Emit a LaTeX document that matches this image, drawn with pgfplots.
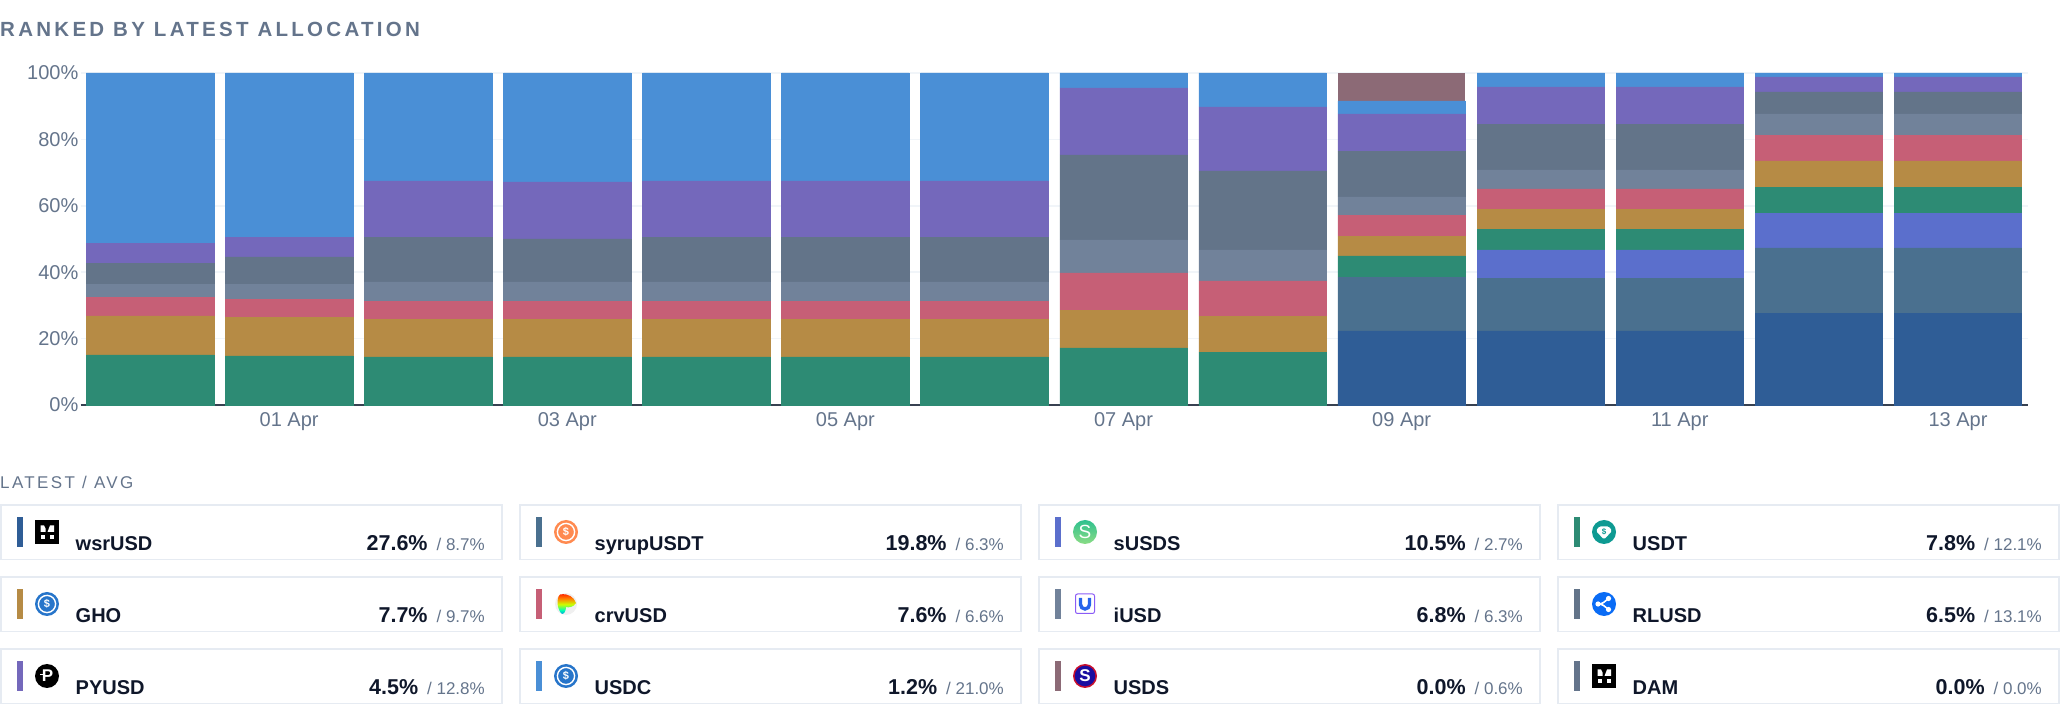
\documentclass[border=0pt]{standalone}
\usepackage{fontspec}
\setmainfont{Liberation Sans}
\newfontfamily\titlefont[LetterSpace=16]{Liberation Sans}
\newfontfamily\subfont[LetterSpace=14]{Liberation Sans}
\usepackage{pgfplots}
\usepackage{pgfplotstable}
\pgfplotsset{compat=1.18}

\definecolor{cwsr}{HTML}{2F5D96}
\definecolor{csyrup}{HTML}{4A708F}
\definecolor{csusds}{HTML}{5B6FCC}
\definecolor{cusdt}{HTML}{2D8B74}
\definecolor{cgho}{HTML}{B68B45}
\definecolor{ccrv}{HTML}{C65F76}
\definecolor{ciusd}{HTML}{71829A}
\definecolor{crlusd}{HTML}{637489}
\definecolor{cpyusd}{HTML}{7468BB}
\definecolor{cusdc}{HTML}{4A8FD6}
\definecolor{cusds}{HTML}{8C6A76}
\definecolor{cdam}{HTML}{64748B}
\definecolor{muted}{HTML}{64748B}
\definecolor{ink}{HTML}{0F172A}
\definecolor{cardline}{HTML}{E6EBF2}
\definecolor{gridc}{HTML}{F1F5F9}
\definecolor{baseline}{HTML}{374151}
\definecolor{icblue}{HTML}{2775CA}
\definecolor{icorange}{HTML}{FF8A50}
\definecolor{icteal}{HTML}{0E9A92}
\definecolor{icxrp}{HTML}{0A6CF5}
\definecolor{icnavy}{HTML}{1A0DA0}
\definecolor{icred}{HTML}{C8102E}
\definecolor{icvio}{HTML}{8B5CF6}
\definecolor{icu}{HTML}{2563EB}
\definecolor{icgtop}{HTML}{2EC08F}
\definecolor{icgbot}{HTML}{8BDC85}

\pgfdeclareverticalshading{crvshade}{100bp}{
  color(0bp)=(blue);
  color(18bp)=(blue!70!cyan);
  color(34bp)=(cyan!70!green);
  color(48bp)=(yellow!80!green);
  color(62bp)=(orange);
  color(78bp)=(red);
  color(100bp)=(red!55!black)}

% daily shares in percent, stacked bottom to top
\pgfplotstableread{
x wsr   syrup  susds usdt  gho   crv   iusd rlusd pyusd usdc  usds
0 0     0      0     15.06 11.75 5.70  3.90 6.20  6.10  51.29 0
1 0     0      0     14.76 11.74 5.40  4.50 8.20  6.00  49.40 0
2 0     0      0     14.46 11.44 5.20  5.95 13.35 17.10 32.50 0
3 0     0      0     14.46 11.44 5.20  5.95 12.95 17.20 32.80 0
4 0     0      0     14.46 11.44 5.20  5.95 13.35 17.10 32.50 0
5 0     0      0     14.46 11.44 5.20  5.95 13.35 17.10 32.50 0
6 0     0      0     14.46 11.44 5.20  5.95 13.35 17.10 32.50 0
7 0     0      0     17.17 11.43 11.16 9.94 25.60 20.20 4.50  0
8 0     0      0     15.96 10.84 10.55 9.35 23.80 19.30 10.20 0
9 22.30 16.25  0     6.35  6.00  6.30  5.45 13.85 11.15 3.95  8.40
10 22.30 15.95 8.45  6.30  6.00  6.06  5.74 13.80 11.20 4.20  0
11 22.30 15.95 8.45  6.30  6.00  6.06  5.74 13.80 11.20 4.20  0
12 27.70 19.60 10.50 7.85  7.85  7.60  6.55 6.65  4.50  1.20  0
13 27.70 19.60 10.50 7.85  7.85  7.60  6.55 6.65  4.50  1.20  0
}\alloc

% icons, drawn round (0,0), 24 across
\newcommand{\dollar}[2]{\node[text=#1,font=\bfseries\fontsize{#2}{#2}\selectfont,inner sep=0pt] at (0,0) {\$};}
\newcommand{\ring}{\draw[white,line width=1.4pt] (65:8.6) arc (65:295:8.6) (-65:8.6) arc (-65:65:8.6);}
\newcommand{\icsquare}{\fill[black] (-12,-12) rectangle (12,12);
  \fill[white] (-6.5,0) -- (-1.5,0) -- (-1.5,3.5) -- (-3,6.5) -- (-6.5,6.5) -- cycle;
  \fill[white] (-6.5,-7) rectangle (-2,-3);
  \fill[white] (0.5,0) -- (7,0) -- (7,6.5) -- (3,6.5) -- cycle;
  \fill[white] (2.5,-7) rectangle (7,-3);}
\newcommand{\icusdc}{\fill[icblue] (0,0) circle (12); \ring \dollar{white}{11}}
\newcommand{\icsyrup}{\fill[icorange] (0,0) circle (12); \ring \dollar{white}{11}}
\newcommand{\icsusds}{\shade[top color=icgtop,bottom color=icgbot] (0,0) circle (12);
  \node[text=white,font=\fontsize{19}{19}\selectfont,inner sep=0pt] at (0,0) {S};}
\newcommand{\icusdt}{\fill[icteal] (0,0) circle (12);
  \fill[white,rounded corners=1.5pt] (-5,5.5) -- (5,5.5) -- (8,1) -- (0,-7.5) -- (-8,1) -- cycle; \dollar{icteal}{8}}
\newcommand{\iccrv}{\fill[gray!12] (0,0) circle (11);
  \shade[shading=crvshade] (-6,9.5) .. controls (2,11) and (8,7) .. (10,1) .. controls (8,-3) and (2,-4) .. (0,-3)
     .. controls (0,-7) and (-2,-10) .. (-4,-10) .. controls (-9,-6) and (-10,6) .. cycle;}
\newcommand{\iciusd}{\draw[icvio,rounded corners=2pt,line width=1pt] (-9.5,-9.5) rectangle (9.5,10);
  \draw[icu,line width=3.4pt] (-4.5,6) -- (-4.5,-0.5) arc (180:360:4.5) -- (4.5,6);}
\newcommand{\icrlusd}{\fill[icxrp] (0,0) circle (12);
  \draw[white,line width=1.6pt] (-6,0) .. controls (-1,0) and (0,2) .. (4.5,5.5) (-6,0) .. controls (-1,0) and (0,-2) .. (4.5,-5.5);
  \fill[white] (-6,0) circle (2.6) (4.5,5.5) circle (2.6) (4.5,-5.5) circle (2.6);}
\newcommand{\icusds}{\fill[icred] (0,0) circle (12);
  \fill[icnavy] (0,0) circle (10.3);
  \node[text=white,font=\bfseries\fontsize{17}{17}\selectfont,inner sep=0pt] at (0,0) {S};}
\newcommand{\icpyusd}{\fill[black] (0,0) circle (12);
  \node[text=white,font=\bfseries\fontsize{17}{17}\selectfont,inner sep=0pt] at (0.5,0) {P};
  \fill[white] (-7,0.5) rectangle (-3,1.6);}

% one card: left x, top y (px from the top), colour, icon, name, latest, avg
\newcommand{\card}[7]{%
  \begin{scope}[shift={(#1,{706-#2})}]
    \draw[cardline,line width=1.5pt] (0.8,-0.8) rectangle (502.2,-55.5);
    \fill[#3] (17,-13) rectangle (23,-43);
    \begin{scope}[shift={(47,-28)}] #4 \end{scope}
    \node[anchor=base west,inner sep=0pt,text=ink,font=\bfseries\fontsize{20}{24}\selectfont] at (75.5,-46.7) {#5};
    \node[anchor=base east,inner sep=0pt,text=muted,font=\fontsize{17}{20}\selectfont] at (485,-46.7)
      {{\color{ink}\bfseries\fontsize{21.5}{24}\selectfont #6\%}\hspace{9pt}/ #7\%};
  \end{scope}}

\begin{document}
\begin{tikzpicture}[x=1pt,y=1pt]
\path[use as bounding box] (0,0) rectangle (2060,706);

\node[anchor=base west,inner sep=0pt,text=muted,font=\titlefont\bfseries\fontsize{20.5}{24}\selectfont] at (0,{706-37}) {RANKED BY LATEST ALLOCATION};

\begin{axis}[
  at={(80.5pt,301pt)}, anchor=south west,
  scale only axis, width=1947pt, height=332pt,
  ybar stacked, bar width=127.5pt,
  xmin=-0.5, xmax=13.5, ymin=0, ymax=100,
  axis x line*=bottom, axis y line*=left,
  x axis line style={draw=baseline,line width=1.8pt,-},
  y axis line style={draw=none},
  tick style={draw=none},
  ymajorgrids, grid style={gridc,line width=1.6pt},
  xtick={1,3,5,7,9,11,13},
  xticklabels={01 Apr,03 Apr,05 Apr,07 Apr,09 Apr,11 Apr,13 Apr},
  ytick={0,20,40,60,80,100},
  yticklabel={\pgfmathprintnumber{\tick}\%},
  /pgf/number format/assume math mode=true,
  yticklabel style={text=muted,font=\fontsize{20}{24}\selectfont,inner sep=0pt,anchor=east,xshift=-2pt},
  xticklabel style={text=muted,font=\fontsize{20}{24}\selectfont,inner sep=0pt,anchor=base,yshift=-22pt},
  every axis plot/.append style={line width=0.5pt},
  clip=false,
]
% same-colour stroke closes the hairline seams between stacked segments
\addplot[fill=cwsr,draw=cwsr] table[x=x,y=wsr] {\alloc};
\addplot[fill=csyrup,draw=csyrup] table[x=x,y=syrup] {\alloc};
\addplot[fill=csusds,draw=csusds] table[x=x,y=susds] {\alloc};
\addplot[fill=cusdt,draw=cusdt] table[x=x,y=usdt] {\alloc};
\addplot[fill=cgho,draw=cgho] table[x=x,y=gho] {\alloc};
\addplot[fill=ccrv,draw=ccrv] table[x=x,y=crv] {\alloc};
\addplot[fill=ciusd,draw=ciusd] table[x=x,y=iusd] {\alloc};
\addplot[fill=crlusd,draw=crlusd] table[x=x,y=rlusd] {\alloc};
\addplot[fill=cpyusd,draw=cpyusd] table[x=x,y=pyusd] {\alloc};
\addplot[fill=cusdc,draw=cusdc] table[x=x,y=usdc] {\alloc};
\addplot[fill=cusds,draw=none] table[x=x,y=usds] {\alloc};
\end{axis}

\node[anchor=base west,inner sep=0pt,text=muted,font=\subfont\fontsize{17}{20}\selectfont] at (0,{706-489}) {LATEST / AVG};

\card{0}{504}{cwsr}{\icsquare}{wsrUSD}{27.6}{8.7}
\card{519}{504}{csyrup}{\icsyrup}{syrupUSDT}{19.8}{6.3}
\card{1038}{504}{csusds}{\icsusds}{sUSDS}{10.5}{2.7}
\card{1557}{504}{cusdt}{\icusdt}{USDT}{7.8}{12.1}
\card{0}{576}{cgho}{\icusdc}{GHO}{7.7}{9.7}
\card{519}{576}{ccrv}{\iccrv}{crvUSD}{7.6}{6.6}
\card{1038}{576}{ciusd}{\iciusd}{iUSD}{6.8}{6.3}
\card{1557}{576}{crlusd}{\icrlusd}{RLUSD}{6.5}{13.1}
\card{0}{648}{cpyusd}{\icpyusd}{PYUSD}{4.5}{12.8}
\card{519}{648}{cusdc}{\icusdc}{USDC}{1.2}{21.0}
\card{1038}{648}{cusds}{\icusds}{USDS}{0.0}{0.6}
\card{1557}{648}{cdam}{\icsquare}{DAM}{0.0}{0.0}
\end{tikzpicture}
\end{document}
